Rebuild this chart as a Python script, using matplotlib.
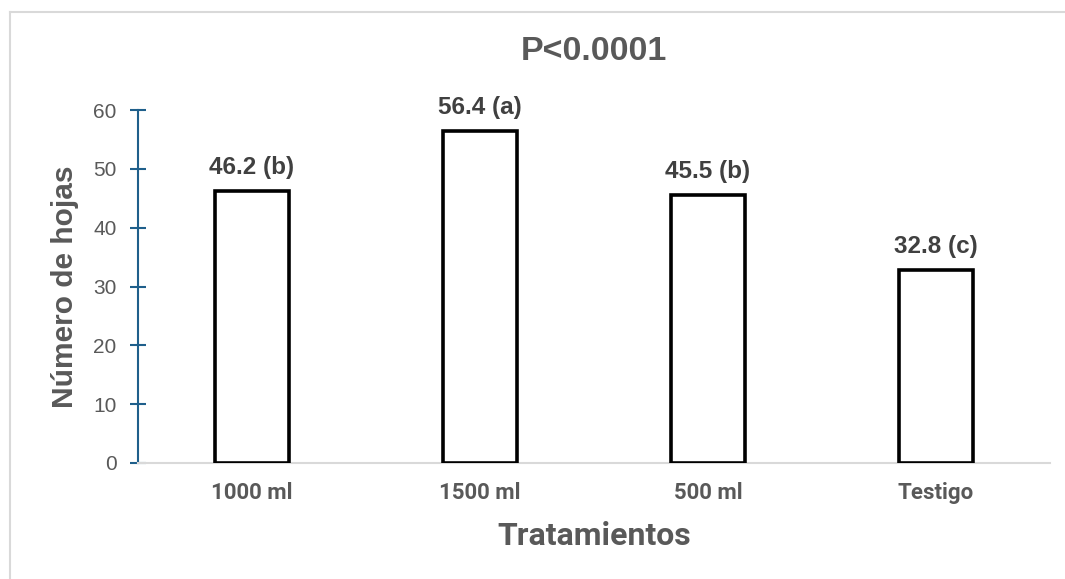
import matplotlib.pyplot as plt
from matplotlib.lines import Line2D

# Data
tratamientos = ['1000 ml', '1500 ml', '500 ml', 'Testigo']
hojas = [46.2, 56.4, 45.5, 32.8]
letras = ['b', 'a', 'b', 'c']

fig = plt.figure(figsize=(10.65, 5.79), dpi=100)
ax = fig.add_axes([138 / 1065, 1 - 463 / 579, (1050 - 138) / 1065, (463 - 110) / 579])

# chart area border: only top and left edges are inside the picture
bx, by = 10 / 1065, 1 - 12 / 579
fig.lines.append(Line2D([bx, 1.0], [by, by], transform=fig.transFigure,
                        color='#D9D9D9', linewidth=1.5))
fig.lines.append(Line2D([bx, bx], [0.0, by], transform=fig.transFigure,
                        color='#D9D9D9', linewidth=1.5))

x = range(len(tratamientos))
ax.bar(x, hojas, width=0.325, color='white', edgecolor='black', linewidth=2.6, zorder=3)

for i, v in enumerate(hojas):
    ax.annotate('%.1f (%s)' % (v, letras[i]), (i, v), xytext=(0, 9),
                textcoords='offset points', ha='center', va='bottom',
                fontsize=17.5, fontweight='bold', color='#404040',
                family='Liberation Sans')

ax.set_xlim(-0.5, 3.5)
ax.set_ylim(0, 60)
ax.set_yticks(range(0, 61, 10))
ax.set_xticks(list(x))
ax.set_xticklabels(tratamientos, fontsize=16, fontweight='bold', color='#595959', family='Roboto')
for lab in ax.get_yticklabels():
    lab.set_family('Liberation Sans')
    lab.set_fontsize(15)
    lab.set_color('#595959')

ax.tick_params(axis='x', length=0, pad=14)
ax.tick_params(axis='y', direction='inout', length=11, width=1.5, color='#1F5F8B', pad=10)

for s in ['top', 'right']:
    ax.spines[s].set_visible(False)
ax.spines['left'].set_color('#1F5F8B')
ax.spines['left'].set_linewidth(1.5)
ax.spines['bottom'].set_color('#D9D9D9')
ax.spines['bottom'].set_linewidth(1.5)

ax.set_title('P<0.0001', fontsize=24.5, fontweight='bold', color='#595959',
             family='Liberation Sans', pad=36)
ax.set_ylabel('Número de hojas', fontsize=21.5, fontweight='bold', color='#595959',
              family='Liberation Sans', labelpad=10)
ax.set_xlabel('Tratamientos', fontsize=23, fontweight='bold', color='#595959',
              family='Roboto', labelpad=12)

fig.savefig('out.png', dpi=100)
